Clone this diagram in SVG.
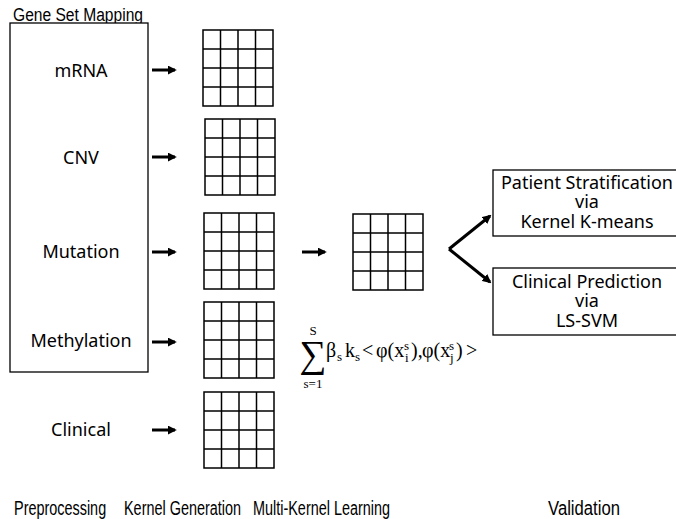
<svg xmlns="http://www.w3.org/2000/svg" width="676" height="519" viewBox="0 0 676 519">
<style>
.lbl{font-family:"Noto Sans","Open Sans",sans-serif;font-size:18px;fill:#000;text-anchor:middle}
.narrow{font-family:"Liberation Sans Narrow","Liberation Sans",sans-serif;font-size:18px;fill:#000}
.stage{font-size:21px}
.box{fill:#fff;stroke:#000;stroke-width:1.3}
.gl{fill:none;stroke:#000;stroke-width:1.5}
.arr{stroke:#000;stroke-width:3;fill:none}
.math{font-family:"Liberation Serif","DejaVu Serif",serif;fill:#000;font-size:20px}
.sm{font-size:13px}
</style>
<defs>
<marker id="ah" viewBox="0 0 10 10" refX="8" refY="5" markerWidth="3" markerHeight="3" orient="auto" markerUnits="strokeWidth">
<path d="M0,0 L10,5 L0,10 z" fill="#000"/>
</marker>
<g id="grid">
<rect x="0" y="0" width="70" height="76" class="gl"/>
<path class="gl" d="M17.5,0V76M35,0V76M52.5,0V76M0,19H70M0,38H70M0,57H70"/>
</g>
</defs>
<rect width="676" height="519" fill="#fff"/>

<g id="gene-set-mapping">
<text class="narrow" x="13" y="21" textLength="130" lengthAdjust="spacingAndGlyphs">Gene Set Mapping</text>
<rect class="box" x="10" y="23" width="138" height="349"/>
<text class="lbl" x="81" y="77">mRNA</text>
<text class="lbl" x="81" y="164">CNV</text>
<text class="lbl" x="81" y="258">Mutation</text>
<text class="lbl" x="81" y="347">Methylation</text>
</g>
<g id="clinical"><text class="lbl" x="81" y="436">Clinical</text></g>

<g id="kernel-mrna"><use href="#grid" x="203" y="30"/></g>
<g id="kernel-cnv"><use href="#grid" x="205" y="119"/></g>
<g id="kernel-mutation"><use href="#grid" x="204" y="213"/></g>
<g id="kernel-methylation"><use href="#grid" x="204" y="302"/></g>
<g id="kernel-clinical"><use href="#grid" x="204" y="392"/></g>
<g id="combined-kernel"><use href="#grid" x="353" y="214"/></g>

<g id="stratification">
<rect class="box" x="493" y="170" width="190" height="66"/>
<text class="lbl" x="587" y="189">Patient Stratification</text>
<text class="lbl" x="587" y="208">via</text>
<text class="lbl" x="587" y="228">Kernel K-means</text>
</g>
<g id="prediction">
<rect class="box" x="493" y="268" width="190" height="67"/>
<text class="lbl" x="587" y="288">Clinical Prediction</text>
<text class="lbl" x="587" y="307">via</text>
<text class="lbl" x="587" y="327">LS-SVM</text>
</g>

<g id="connectors">
<line class="arr" x1="152" y1="70" x2="175" y2="70" marker-end="url(#ah)"/>
<line class="arr" x1="152" y1="157" x2="175" y2="157" marker-end="url(#ah)"/>
<line class="arr" x1="152" y1="252" x2="175" y2="252" marker-end="url(#ah)"/>
<line class="arr" x1="152" y1="342" x2="175" y2="342" marker-end="url(#ah)"/>
<line class="arr" x1="152" y1="430" x2="175" y2="430" marker-end="url(#ah)"/>
<line class="arr" x1="302" y1="252" x2="325" y2="252" marker-end="url(#ah)"/>
<path class="arr" d="M449,249 L490,216" marker-end="url(#ah)"/>
<path class="arr" d="M449,249 L490,282" marker-end="url(#ah)"/>
</g>

<g id="formula">
<text class="math sm" x="313" y="335" text-anchor="middle">S</text>
<text class="math" x="313" y="367" text-anchor="middle" style="font-size:38px">∑</text>
<text class="math sm" x="313" y="388" text-anchor="middle">s=1</text>
<text class="math"><tspan x="326" y="357">β</tspan><tspan class="sm" x="337" y="361">s</tspan><tspan x="345" y="357">k</tspan><tspan class="sm" x="355" y="361">s</tspan><tspan x="362" y="357">&lt;</tspan><tspan x="376" y="357">φ(x</tspan><tspan class="sm" x="404" y="350">s</tspan></text>
<text class="math"><tspan class="sm" x="405" y="362">i</tspan><tspan x="411" y="357">),</tspan><tspan x="422" y="357">φ(x</tspan><tspan class="sm" x="449" y="350">s</tspan></text>
<text class="math"><tspan class="sm" x="450" y="362">j</tspan><tspan x="456" y="357">)</tspan><tspan x="466" y="357">&gt;</tspan></text>
</g>

<g id="stage-labels" transform="scale(0.687,1)">
<text class="narrow stage" x="20.4" y="515">Preprocessing</text>
<text class="narrow stage" x="180.5" y="515">Kernel Generation</text>
<text class="narrow stage" x="368.3" y="515">Multi-Kernel Learning</text>
<text class="narrow stage" x="797.7" y="515" textLength="104.8" lengthAdjust="spacingAndGlyphs">Validation</text>
</g>
</svg>
